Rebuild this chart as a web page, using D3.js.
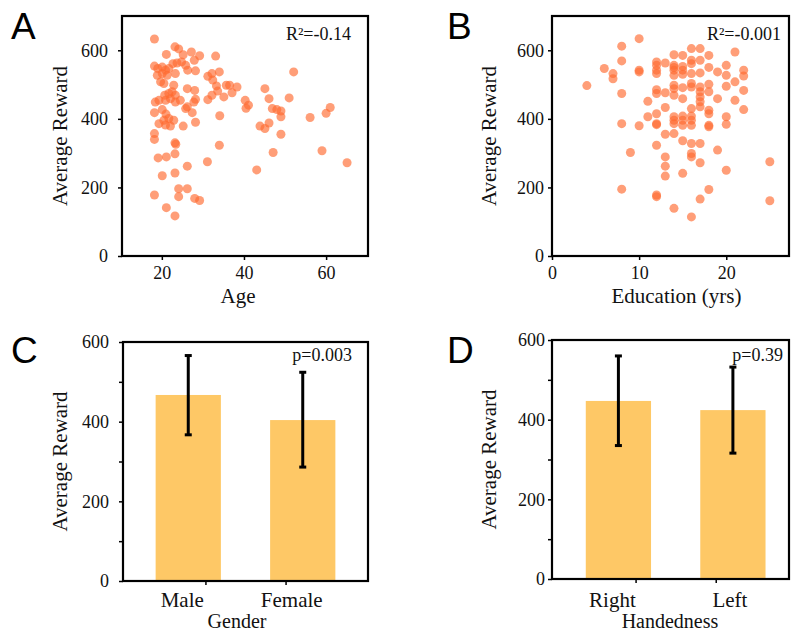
<!DOCTYPE html>
<html>
<head>
<meta charset="utf-8">
<script src="https://cdn.jsdelivr.net/npm/d3@7"></script>
<style>
  body { margin: 0; background: #fff; }
</style>
</head>
<body>
<svg id="chart" width="791" height="635"></svg>
<script>
// A: age vs average reward
const ageYears = [18.2,23.2,24.1,21.1,25.2,27.2,29.2,27.9,33.1,18.2,19.0,20.1,20.9,21.7,22.7,23.7,24.8,25.8,26.3,28.2,
  18.9,20.1,21.3,23.3,19.7,20.5,22.9,32.2,34.0,31.2,32.4,35.7,36.5,38.3,37.1,33.3,33.6,32.2,31.2,35.1,
  26.2,28.0,28.2,27.8,18.4,19.3,20.7,21.7,22.5,23.3,20.9,22.1,23.3,24.5,26.2,25.8,18.2,20.1,21.0,27.4,
  34.1,19.3,20.5,21.7,22.9,20.9,22.1,25.2,28.2,18.2,18.2,
  23.2,23.4,34.0,19.1,21.1,23.2,31.1,26.2,20.1,23.2,24.1,26.2,24.1,18.2,28.0,29.2,21.1,23.2,
  52.1,45.1,46.1,51.0,40.3,41.1,40.5,46.9,48.0,49.0,49.0,56.1,60.0,61.0,43.9,45.1,46.1,49.0,47.1,59.0,65.1,43.1];
const ageRewards = [633,610,604,588,587,595,584,571,583,554,547,551,542,547,561,563,566,556,542,540,
  527,532,527,532,508,503,498,532,537,524,513,498,498,493,476,496,481,469,456,464,
  488,483,457,449,449,454,469,474,479,469,454,459,449,454,435,430,418,427,414,418,
  409,386,396,401,396,382,379,379,390,357,340,
  330,326,323,286,289,298,275,262,234,242,196,196,173,178,168,162,141,117,
  537,488,459,461,454,440,431,430,427,423,406,404,416,433,379,372,388,355,302,307,272,251];

// B: education vs average reward
const eduYears = [4,6,7,7,8,8,8,8,8,9,10,10,10,10,11,11,
  12,12,12,12,12,12,12,12,12,12,12,12,
  13,13,13,13,13,13,13,
  14,14,14,14,14,14,14,14,14,14,14,14,14,
  15,15,15,15,15,15,15,15,15,15,15,
  16,16,16,16,16,16,16,16,16,16,16,16,16,16,
  17,17,17,17,17,17,17,17,17,17,17,
  18,18,18,18,18,18,18,18,18,
  19,19,19,20,20,20,20,20,20,21,21,21,22,22,22,22,25,25];
const eduRewards = [497,547,532,517,612,569,474,386,195,302,634,542,537,380,451,406,
  566,556,542,532,485,474,415,386,383,323,178,173,
  563,476,433,355,289,262,233,
  587,556,550,542,527,498,488,469,406,396,386,357,139,
  585,553,542,530,491,459,408,396,381,336,241,
  605,571,561,532,503,493,430,408,396,381,328,299,289,114,
  605,571,534,493,479,464,450,435,328,272,166,
  585,550,501,479,425,415,381,377,194,
  537,459,309,556,527,495,406,384,250,595,508,454,542,525,483,427,275,161];

// C: gender
const genders = ["Male", "Female"];
const genderMeans = [467, 404];
const genderLow = [367, 286];
const genderHigh = [566, 524];

// D: handedness
const hands = ["Right", "Left"];
const handMeans = [447, 424];
const handLow = [335, 316];
const handHigh = [560, 532];

const rewardTicks = [0, 200, 400, 600];
const minorTicks = [100, 300, 500];

const svg = d3.select("#chart");
const dotColor = "#ff6a30";
const barColor = "#fec866";
const serif = "'Liberation Serif', 'Times New Roman', serif";

function txt(sel, size) {
  return sel.style("font-family", serif).style("font-size", size + "px").attr("fill", "#111");
}

function frame(g, x0, x1, y0, y1) {
  g.append("rect")
    .attr("x", x0).attr("y", y0)
    .attr("width", x1 - x0).attr("height", y1 - y0)
    .attr("fill", "none").attr("stroke", "#000").attr("stroke-width", 2.2);
}

function styleAxis(sel) {
  sel.attr("font-family", null);
  sel.select(".domain").remove();
  sel.selectAll(".tick line").attr("stroke", "#000").attr("stroke-width", 1.5);
  txt(sel.selectAll(".tick text"), 18);
}

function yLabel(x, y) {
  txt(svg.append("text")
    .attr("transform", `translate(${x},${y}) rotate(-90)`)
    .attr("text-anchor", "middle"), 21)
    .text("Average Reward");
}

function scatterPanel(p) {
  const x = d3.scaleLinear().domain(p.xDomain).range(p.xRange);
  const y = d3.scaleLinear().domain([0, 700]).range([256, 16]);
  const g = svg.append("g");

  g.append("g").selectAll("circle")
    .data(p.xs.map((v, i) => [v, p.ys[i]]))
    .join("circle")
    .attr("cx", d => x(d[0]))
    .attr("cy", d => y(d[1]))
    .attr("r", 4.5)
    .attr("fill", dotColor)
    .attr("fill-opacity", 0.65);

  frame(g, p.xRange[0], p.xRange[1], 16, 256);

  g.append("g").attr("transform", `translate(${p.xRange[0]},0)`)
    .call(d3.axisLeft(y).tickValues(rewardTicks).tickSize(4).tickPadding(p.yPad))
    .call(styleAxis);
  g.append("g").attr("transform", "translate(0,256)")
    .call(d3.axisBottom(x).tickValues(p.xTicks).tickSize(4).tickPadding(6))
    .call(styleAxis);

  txt(g.append("text")
    .attr("x", p.xRange[1] - p.statRight).attr("y", 40)
    .attr("text-anchor", "end"), 18)
    .text(p.stat);

  txt(svg.append("text")
    .attr("x", (p.xRange[0] + p.xRange[1]) / 2 + p.labelShift).attr("y", 303)
    .attr("text-anchor", "middle"), 21)
    .text(p.xLabel);
  yLabel(p.yLabelX, 136);
}

function barPanel(p) {
  const x = d3.scaleLinear().domain(p.xDomain).range(p.xRange);
  const y = d3.scaleLinear().domain([0, 600]).range([p.bottom, p.top]);
  const g = svg.append("g");
  const bw = x(0.57) - x(0);

  g.selectAll("rect.bar")
    .data(p.means)
    .join("rect")
    .attr("class", "bar")
    .attr("x", (d, i) => x(i) - bw / 2)
    .attr("y", d => y(d))
    .attr("width", bw)
    .attr("height", d => y(0) - y(d))
    .attr("fill", barColor);

  const err = g.append("g").attr("stroke", "#000").attr("stroke-width", 3);
  p.means.forEach((m, i) => {
    const cx = x(i);
    err.append("line").attr("x1", cx).attr("x2", cx).attr("y1", y(p.low[i])).attr("y2", y(p.high[i]));
    [p.low[i], p.high[i]].forEach(v => {
      err.append("line").attr("x1", cx - 3.5).attr("x2", cx + 3.5).attr("y1", y(v)).attr("y2", y(v));
    });
  });

  frame(g, p.xRange[0], p.xRange[1], p.top, p.bottom);

  g.append("g").attr("transform", `translate(${p.xRange[0]},0)`)
    .call(d3.axisLeft(y).tickValues(rewardTicks).tickSize(4).tickPadding(p.yPad))
    .call(styleAxis);
  g.append("g").attr("transform", `translate(${p.xRange[0]},0)`)
    .call(d3.axisLeft(y).tickValues(minorTicks).tickSize(4).tickFormat(""))
    .call(styleAxis);
  g.append("g").attr("transform", `translate(0,${p.bottom})`)
    .call(d3.axisBottom(x).tickValues([0.15, 0.85]).tickSize(4).tickFormat(""))
    .call(styleAxis);

  txt(g.selectAll("text.cat")
    .data(p.cats)
    .join("text")
    .attr("class", "cat")
    .attr("x", (d, i) => x(i) + p.catShift[i])
    .attr("y", 607)
    .attr("text-anchor", "middle"), 21)
    .text(d => d);

  txt(g.append("text")
    .attr("x", p.statX).attr("y", 361)
    .attr("text-anchor", "end"), 18)
    .text(p.stat);

  txt(svg.append("text")
    .attr("x", p.xLabelX).attr("y", 628)
    .attr("text-anchor", "middle"), 20)
    .text(p.xLabel);
  yLabel(p.yLabelX, (p.top + p.bottom) / 2);
}

scatterPanel({
  xs: ageYears, ys: ageRewards, xDomain: [10.3, 70.2], xRange: [122, 368],
  xTicks: [20, 40, 60], xLabel: "Age", stat: "R\u00b2=-0.14", statRight: 17,
  yPad: 10, yLabelX: 67, labelShift: -7
});
scatterPanel({
  xs: eduYears, ys: eduRewards, xDomain: [0, 27.2], xRange: [552, 789],
  xTicks: [0, 10, 20], xLabel: "Education (yrs)", stat: "R\u00b2=-0.001", statRight: 8,
  yPad: 4, yLabelX: 496, labelShift: 6
});
barPanel({
  cats: genders, means: genderMeans, low: genderLow, high: genderHigh,
  xDomain: [-0.57, 1.57], xRange: [123, 368], top: 342, bottom: 581,
  yPad: 10, catShift: [-6, -11], stat: "p=0.003", statX: 352,
  xLabel: "Gender", xLabelX: 237, yLabelX: 67
});
barPanel({
  cats: hands, means: handMeans, low: handLow, high: handHigh,
  xDomain: [-0.58, 1.49], xRange: [552, 789], top: 340, bottom: 579,
  yPad: 3, catShift: [-6, -3], stat: "p=0.39", statX: 783,
  xLabel: "Handedness", xLabelX: 670, yLabelX: 496
});

// panel letters
const letters = [["A", 11, 39], ["B", 447, 39], ["C", 11, 363], ["D", 447, 363]];
svg.selectAll("text.letter")
  .data(letters)
  .join("text")
  .attr("class", "letter")
  .attr("x", d => d[1]).attr("y", d => d[2])
  .style("font-family", "'Liberation Sans', Arial, sans-serif")
  .style("font-size", "37px")
  .attr("fill", "#000")
  .text(d => d[0]);
</script>
</body>
</html>
